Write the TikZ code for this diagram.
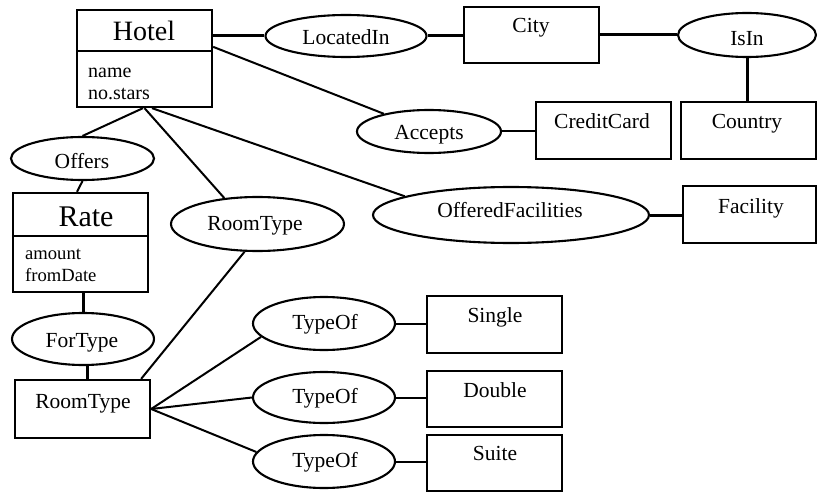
\documentclass[tikz,border=0pt]{standalone}
\usepackage{fontspec}
\setmainfont{Liberation Serif}
\usetikzlibrary{shapes.geometric,calc}
\begin{document}
\begin{tikzpicture}[x=1pt,y=-1pt,
  ent/.style={draw,line width=2.3pt,rectangle,inner sep=0pt,minimum width=135pt},
  rel/.style={draw,line width=2.1pt,ellipse,inner sep=0pt},
  txt/.style={anchor=base,inner sep=0pt,font=\fontsize{21.5}{24}\selectfont},
  att/.style={anchor=base west,inner sep=0pt,font=\fontsize{20}{22}\selectfont},
  conn/.style={line width=2pt},
  conthick/.style={line width=3pt}]
\useasboundingbox (0,0) rectangle (817,492);

% entity boxes
\node[ent,minimum height=97pt] (hotel) at (144.5,58.5) {};
\node[ent,minimum height=99pt] (rate) at (80.5,242.5) {};
\node[ent,minimum height=58pt] (rtbox) at (82.5,409) {};
\node[ent,minimum height=56pt] (city) at (531.5,35) {};
\node[ent,minimum height=57pt] (cc) at (603.5,130.5) {};
\node[ent,minimum height=57pt] (country) at (748.5,130.5) {};
\node[ent,minimum height=57pt,minimum width=133pt] (facility) at (749.5,214.5) {};
\node[ent,minimum height=57pt] (single) at (494.5,324.5) {};
\node[ent,minimum height=56pt] (double) at (494.5,399) {};
\node[ent,minimum height=56pt] (suite) at (494.5,463) {};

\draw[line width=2.3pt] ($(hotel.north west)+(0,42)$) -- ($(hotel.north east)+(0,42)$);
\draw[line width=2.3pt] ($(rate.north west)+(0,44)$) -- ($(rate.north east)+(0,44)$);

% relationship ellipses
\node[rel,minimum width=161pt,minimum height=42pt] (loc) at (346,36) {};
\node[rel,minimum width=138pt,minimum height=44pt] (isin) at (747,35) {};
\node[rel,minimum width=144pt,minimum height=43pt] (acc) at (429,131.5) {};
\node[rel,minimum width=276pt,minimum height=56pt] (of) at (511,215) {};
\node[rel,minimum width=143pt,minimum height=43pt] (offers) at (82.5,158.5) {};
\node[rel,minimum width=142pt,minimum height=52pt] (fortype) at (83,339) {};
\node[rel,minimum width=173pt,minimum height=54pt] (rtell) at (257.5,224) {};
\node[rel,minimum width=142pt,minimum height=53pt] (to1) at (324,323.5) {};
\node[rel,minimum width=142pt,minimum height=51pt] (to2) at (324,397.5) {};
\node[rel,minimum width=142pt,minimum height=53pt] (to3) at (324,461.5) {};

% texts
\node[txt,font=\fontsize{28}{30}\selectfont] (hotelt) at (144,41) {Hotel};
\node[att] (hname) at (88,78) {name};
\node[att] (hstars) at (88,100) {no.stars};
\node[txt,font=\fontsize{30}{32}\selectfont] (ratet) at (86,226) {Rate};
\node[att,font=\fontsize{18.6}{20}\selectfont] (ramount) at (25,259) {amount};
\node[att,font=\fontsize{18.6}{20}\selectfont] (rfrom) at (25,281) {fromDate};
\node[txt] (rtboxt) at (83,408) {RoomType};
\node[txt] (cityt) at (531,33) {City};
\node[txt] (cct) at (602,129) {CreditCard};
\node[txt] (countryt) at (747,129) {Country};
\node[txt] (facilityt) at (751,213) {Facility};
\node[txt] (singlet) at (495,322) {Single};
\node[txt] (doublet) at (495,397) {Double};
\node[txt] (suitet) at (495,460) {Suite};

\node[txt] (loct) at (346,45) {LocatedIn};
\node[txt] (isint) at (747,46) {IsIn};
\node[txt] (acct) at (429,140) {Accepts};
\node[txt] (oft) at (510,218) {OfferedFacilities};
\node[txt] (offerst) at (82,168) {Offers};
\node[txt] (fortypet) at (82,347) {ForType};
\node[txt] (rtellt) at (255,230) {RoomType};
\node[txt] (to1t) at (325,329) {TypeOf};
\node[txt] (to2t) at (325,403) {TypeOf};
\node[txt] (to3t) at (325,467) {TypeOf};

% connectors
\draw[conthick] (hotel.east |- loc.west) -- (loc.west);
\draw[conthick] (loc.east) -- (loc.east -| city.west);
\draw[conthick] (city.east |- isin.west) -- (isin.west);
\draw[conthick] (isin.south) -- (isin.south |- country.north);
\draw[conn] ($(hotel.north east)+(0,38)$) -- (acc);
\draw[conn] (acc.east) -- (acc.east -| cc.west);
\draw[conn] ($(hotel.south)+(7.5,0)$) -- (of.170.6);
\draw[conthick] (of.east) -- (of.east -| facility.west);
\draw[conn] (hotel.south) -- (rtell.142);
\draw[conn] ($(hotel.south)+(-1.5,0)$) -- (offers.north);
\draw[conn] (offers.south) -- ($(rate.north)+(-3.5,0)$);
\draw[conthick] (fortype.north |- rate.south) -- (fortype.north);
\coordinate (ftb) at ($(fortype.south)+(4,0)$);
\draw[conthick] (ftb) -- (ftb |- rtbox.north);
\draw[conn] (rtell.245) -- ($(rtbox.north east)+(-10,0)$);
\draw[conn] (rtbox.east) -- (to1.192.7);
\draw[conn] (rtbox.east) -- (to2.west);
\draw[conn] (rtbox.east) -- (to3.172);
\draw[conn] (to1.east) -- (to1.east -| single.west);
\draw[conn] (to2.east) -- (to2.east -| double.west);
\draw[conn] (to3.east) -- (to3.east -| suite.west);
\end{tikzpicture}
\end{document}
